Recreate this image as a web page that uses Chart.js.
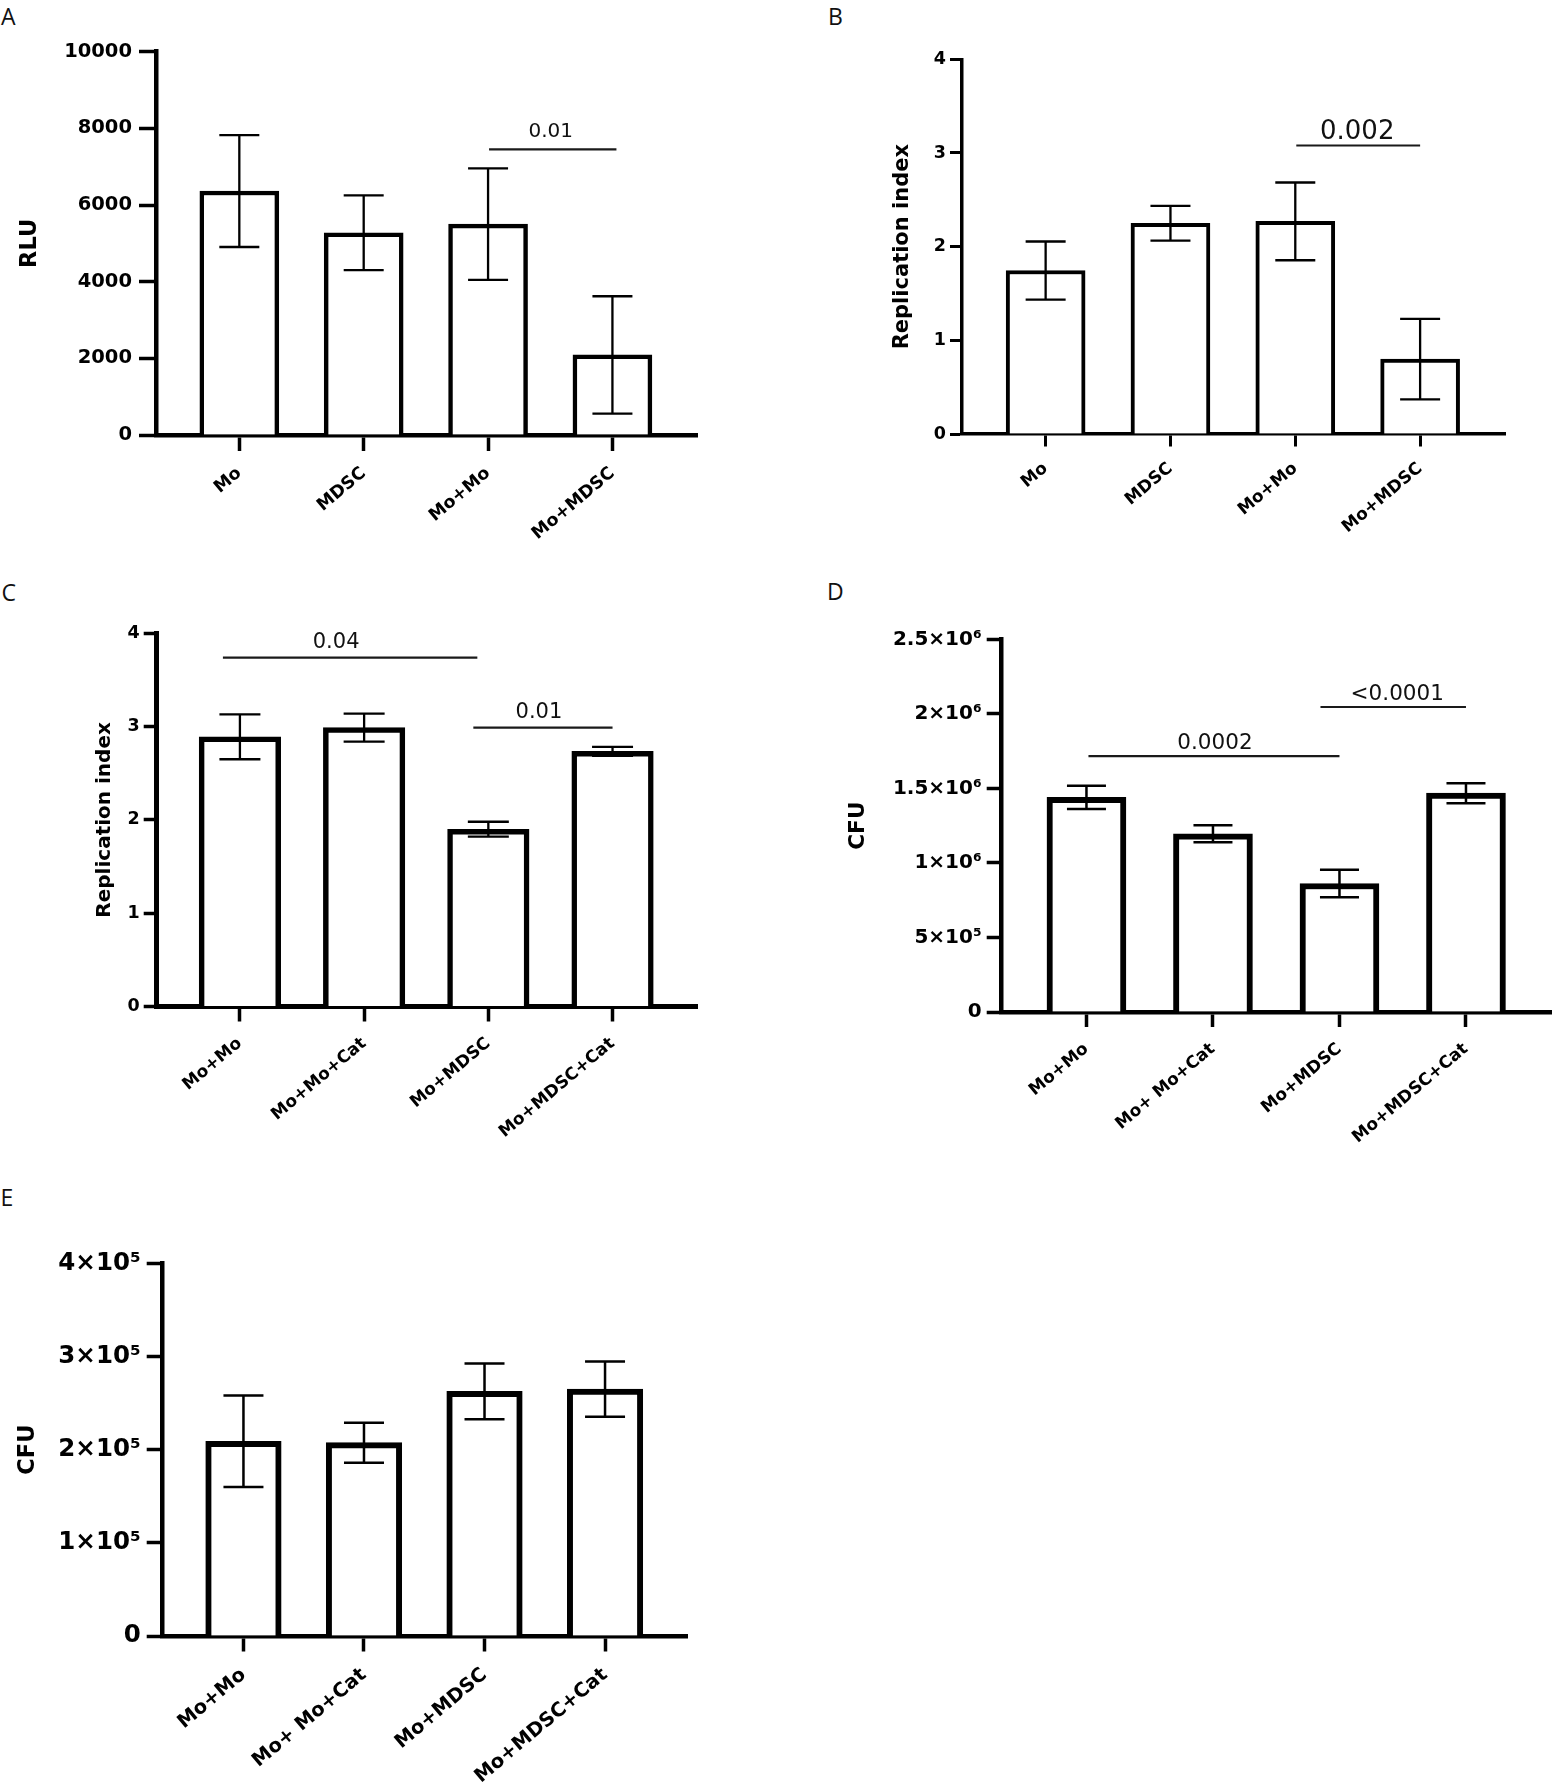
<!DOCTYPE html>
<html><head><meta charset="utf-8">
<script src="https://cdn.jsdelivr.net/npm/chart.js@4.4.1/dist/chart.umd.min.js"></script>
<style>
html,body{margin:0;padding:0;background:#fff;overflow:hidden;}
#fig{position:relative;width:1552px;height:1791px;background:#fff;}
#fig canvas{position:absolute;}
.plbl{position:absolute;font-family:"Open Sans",sans-serif;font-size:23px;line-height:23px;color:#111;}
</style></head><body><div id="fig"></div>
<script>
// ---------------- data ----------------
const catsAB = ['Mo', 'MDSC', 'Mo+Mo', 'Mo+MDSC'];
const catsC  = ['Mo+Mo', 'Mo+Mo+Cat', 'Mo+MDSC', 'Mo+MDSC+Cat'];
const catsDE = ['Mo+Mo', 'Mo+ Mo+Cat', 'Mo+MDSC', 'Mo+MDSC+Cat'];

const rluMean = [6365, 5275, 5500, 2090];
const rluErr  = [1460, 975, 1455, 1530];
const riBMean = [1.745, 2.25, 2.27, 0.80];
const riBErr  = [0.31, 0.185, 0.415, 0.43];
const riCMean = [2.89, 2.99, 1.90, 2.735];
const riCErr  = [0.24, 0.15, 0.08, 0.048];
const cfuDMean = [1.44e6, 1.195e6, 0.862e6, 1.468e6];
const cfuDErr  = [0.078e6, 0.057e6, 0.093e6, 0.067e6];
const cfuEMean = [2.09e5, 2.075e5, 2.625e5, 2.65e5];
const cfuEErr  = [0.49e5, 0.215e5, 0.30e5, 0.297e5];

const ticksA = [0, 2000, 4000, 6000, 8000, 10000];
const tickLabelsA = ['0', '2000', '4000', '6000', '8000', '10000'];
const ticksRI = [0, 1, 2, 3, 4];
const tickLabelsRI = ['0', '1', '2', '3', '4'];
const ticksD = [0, 5e5, 1e6, 1.5e6, 2e6, 2.5e6];
const tickLabelsD = ['0', '5×10⁵', '1×10⁶', '1.5×10⁶', '2×10⁶', '2.5×10⁶'];
const ticksE = [0, 1e5, 2e5, 3e5, 4e5];
const tickLabelsE = ['0', '1×10⁵', '2×10⁵', '3×10⁵', '4×10⁵'];

const sigA = [{from: 2, to: 3, y: 7450, label: '0.01'}];
const sigB = [{from: 2, to: 3, y: 3.08, label: '0.002'}];
const sigC = [{from: 0, to: 2, y: 3.74, label: '0.04'}, {from: 2, to: 3, y: 2.99, label: '0.01'}];
const sigD = [{from: 0, to: 2, y: 1.717e6, label: '0.0002'}, {from: 2, to: 3, y: 2.046e6, label: '<0.0001'}];
const sigE = [];

// ---------------- layout (figure pixels) ----------------
const FONT = 'DejaVu Sans';
const panels = [
  {letter:'A', lx:1, ly:4.6, left:0, top:0, w:776, h:560, axisX:156, yTop:51.7, yZero:435, xRight:697,
   cats:catsAB, mean:rluMean, err:rluErr, yMax:10000, yTicks:ticksA, yLabels:tickLabelsA, sig:sigA,
   yTitle:'RLU', titleFont:22.5, titleX:29.7, tickFont:19.5, ytLen:17, ytPad:7, xtLen:16, xtPad:12,
   catFont:17.5, barW:79, barBorder:4.5, axisW:4.5, tickW:3.5, cap:40, errW:2.3,
   sigFont:20, sigGap:[12.5], sigOff:[[1,4]], sigDx:[-2]},
  {letter:'B', lx:828, ly:4.6, left:776, top:0, w:776, h:560, axisX:962, yTop:59.3, yZero:434, xRight:1505,
   cats:catsAB, mean:riBMean, err:riBErr, yMax:4, yTicks:ticksRI, yLabels:tickLabelsRI, sig:sigB,
   yTitle:'Replication index', titleFont:21, titleX:903, tickFont:17.5, ytLen:12, ytPad:4, xtLen:12.5, xtPad:12,
   catFont:17, barW:79, barBorder:4, axisW:3.5, tickW:3, cap:40, errW:2.3,
   sigFont:26, sigGap:[6], sigOff:[[1,0]], sigDx:[-1]},
  {letter:'C', lx:1.5, ly:580.6, left:0, top:560, w:776, h:600, axisX:156.7, yTop:633.3, yZero:1006.5, xRight:697,
   cats:catsC, mean:riCMean, err:riCErr, yMax:4, yTicks:ticksRI, yLabels:tickLabelsRI, sig:sigC,
   yTitle:'Replication index', titleFont:20, titleX:104.5, tickFont:17.5, ytLen:13, ytPad:4, xtLen:15, xtPad:12,
   catFont:17, barW:81.5, barBorder:5.5, axisW:5, tickW:3.5, cap:41, errW:2.3,
   sigFont:21, sigGap:[9.6, 9.5], sigOff:[[-17,-11],[-15,0]], sigDx:[-14,-4]},
  {letter:'D', lx:827, ly:579.6, left:776, top:560, w:776, h:600, axisX:1001.7, yTop:639.3, yZero:1012, xRight:1552,
   cats:catsDE, mean:cfuDMean, err:cfuDErr, yMax:2.5e6, yTicks:ticksD, yLabels:tickLabelsD, sig:sigD,
   yTitle:'CFU', titleFont:21.7, titleX:858.5, tickFont:20, ytLen:15, ytPad:5, xtLen:15, xtPad:12,
   catFont:17, barW:79, barBorder:6, axisW:4.5, tickW:3.5, cap:39, errW:2.5,
   sigFont:21.5, sigGap:[6.7, 6.9], sigOff:[[2,0],[-19,0]], sigDx:[1,4]},
  {letter:'E', lx:0.5, ly:1185.6, left:0, top:1160, w:776, h:631, axisX:162.7, yTop:1263.3, yZero:1636, xRight:687,
   cats:catsDE, mean:cfuEMean, err:cfuEErr, yMax:4e5, yTicks:ticksE, yLabels:tickLabelsE, sig:sigE,
   yTitle:'CFU', titleFont:22.5, titleX:28.3, tickFont:24.5, ytLen:16, ytPad:6, xtLen:15.5, xtPad:12,
   catFont:19.5, barW:75.5, barBorder:6, axisW:4.5, tickW:3.5, cap:40, errW:2.5,
   sigFont:21, sigGap:[], sigOff:[], sigDx:[]}
];

Chart.defaults.font.family = FONT;
Chart.defaults.color = '#000';
const fig = document.getElementById('fig');

function makeAnnot(p) {
  return {
    id: 'annot' + p.letter,
    afterDatasetsDraw(chart) {
      const ctx = chart.ctx, xs = chart.scales.x, ys = chart.scales.y;
      ctx.save();
      ctx.strokeStyle = '#000';
      ctx.lineCap = 'butt';
      ctx.lineWidth = p.errW;
      p.mean.forEach((m, i) => {
        const e = p.err[i];
        const px = xs.getPixelForValue(i);
        const t = ys.getPixelForValue(m + e), b = ys.getPixelForValue(m - e);
        ctx.beginPath();
        ctx.moveTo(px, t); ctx.lineTo(px, b);
        ctx.moveTo(px - p.cap / 2, t); ctx.lineTo(px + p.cap / 2, t);
        ctx.moveTo(px - p.cap / 2, b); ctx.lineTo(px + p.cap / 2, b);
        ctx.stroke();
      });
      p.sig.forEach((s, k) => {
        const off = p.sigOff[k] || [0, 0];
        const x1 = xs.getPixelForValue(s.from) + off[0];
        const x2 = xs.getPixelForValue(s.to) + off[1];
        const yy = ys.getPixelForValue(s.y);
        ctx.strokeStyle = '#1a1a1a';
        ctx.lineWidth = 2.2;
        ctx.beginPath(); ctx.moveTo(x1, yy); ctx.lineTo(x2, yy); ctx.stroke();
        ctx.fillStyle = '#111';
        ctx.font = p.sigFont + 'px "' + FONT + '"';
        ctx.textAlign = 'center';
        ctx.textBaseline = 'alphabetic';
        ctx.fillText(s.label, (x1 + x2) / 2 + (p.sigDx[k] || 0), yy - (p.sigGap[k] || 8));
      });
      ctx.restore();
    }
  };
}

function makePanel(p) {
  const lbl = document.createElement('div');
  lbl.className = 'plbl';
  lbl.textContent = p.letter;
  lbl.style.left = p.lx + 'px';
  lbl.style.top = p.ly + 'px';
  fig.appendChild(lbl);

  const c = document.createElement('canvas');
  c.width = p.w; c.height = p.h;
  c.style.left = p.left + 'px'; c.style.top = p.top + 'px';
  c.style.width = p.w + 'px'; c.style.height = p.h + 'px';
  fig.appendChild(c);

  new Chart(c, {
    type: 'bar',
    data: {
      datasets: [{
        data: p.mean.map((v, i) => ({x: i, y: v})),
        backgroundColor: '#fff',
        borderColor: '#000',
        borderWidth: p.barBorder,
        borderSkipped: 'start',
        barThickness: p.barW
      }]
    },
    options: {
      responsive: false,
      animation: false,
      events: [],
      layout: {padding: {left: 0, top: p.yTop - p.top, right: (p.left + p.w) - p.xRight, bottom: 0}},
      plugins: {legend: {display: false}, tooltip: {enabled: false}},
      scales: {
        x: {
          type: 'linear', min: -0.67, max: 3.68, offset: false,
          afterBuildTicks: s => { s.ticks = p.cats.map((_, i) => ({value: i})); },
          afterFit: s => { s.height = (p.top + p.h) - p.yZero; },
          grid: {display: true, offset: false, drawOnChartArea: false, drawTicks: true,
                 tickLength: p.xtLen, tickWidth: p.tickW, tickColor: '#000', color: '#000'},
          border: {display: true, color: '#000', width: p.axisW},
          ticks: {autoSkip: false, minRotation: 40, maxRotation: 40, padding: p.xtPad, color: '#000',
                  font: {family: FONT, weight: 'bold', size: p.catFont},
                  callback: v => p.cats[v]}
        },
        y: {
          min: 0, max: p.yMax,
          afterBuildTicks: s => { s.ticks = p.yTicks.map(v => ({value: v})); },
          afterFit: s => { s.width = p.axisX - p.left; },
          grid: {display: true, drawOnChartArea: false, drawTicks: true,
                 tickLength: p.ytLen, tickWidth: p.tickW, tickColor: '#000', color: '#000'},
          border: {display: true, color: '#000', width: p.axisW},
          ticks: {padding: p.ytPad, color: '#000', font: {family: FONT, weight: 'bold', size: p.tickFont},
                  callback: (v, i) => p.yLabels[i]},
          title: {display: true, text: p.yTitle, color: '#000',
                  font: {family: FONT, weight: 'bold', size: p.titleFont, lineHeight: 1.2},
                  padding: {top: (p.titleX - p.left) - p.titleFont * 0.6, bottom: 0}}
        }
      }
    },
    plugins: [makeAnnot(p)]
  });
}

panels.forEach(makePanel);
</script>
</body></html>
